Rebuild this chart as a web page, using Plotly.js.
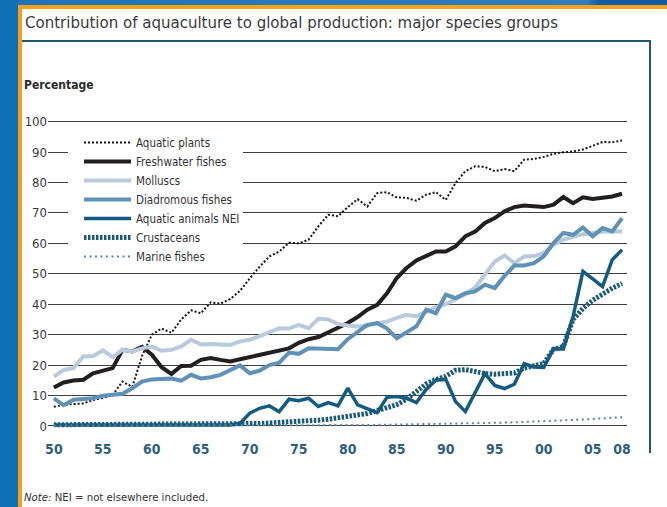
<!DOCTYPE html>
<html>
<head>
<meta charset="utf-8">
<script src="https://cdn.plot.ly/plotly-3.0.1.min.js"></script>
<style>
  html, body { margin: 0; padding: 0; background: #ffffff; }
  body { width: 667px; height: 507px; overflow: hidden; position: relative; }
  .deco { position: absolute; }
  #chart { position: absolute; left: 0; top: 0; width: 667px; height: 507px; }
</style>
</head>
<body>
<div class="deco" style="left:0;top:0;width:667px;height:5px;background:linear-gradient(90deg,#1d74b8 0%,#2f7dbd 88%,#0d5aa2 90%,#0d5aa2 100%);"></div>
<div class="deco" style="left:0;top:0;width:18px;height:507px;background:#0f70b6;"></div>
<div class="deco" style="left:18px;top:5px;width:649px;height:4px;background:#f7a11a;"></div>
<div class="deco" style="left:18px;top:5px;width:4px;height:502px;background:#f7a11a;"></div>
<div class="deco" style="left:22px;top:40px;width:629px;height:2px;background:#1f5670;"></div>
<div class="deco" style="left:649px;top:40px;width:2px;height:413px;background:#1f5670;"></div>
<div id="chart"></div>
<script>
const years = [1950,1951,1952,1953,1954,1955,1956,1957,1958,1959,
  1960,1961,1962,1963,1964,1965,1966,1967,1968,1969,
  1970,1971,1972,1973,1974,1975,1976,1977,1978,1979,
  1980,1981,1982,1983,1984,1985,1986,1987,1988,1989,
  1990,1991,1992,1993,1994,1995,1996,1997,1998,1999,
  2000,2001,2002,2003,2004,2005,2006,2007,2008];

const aquaticPlants = [6.3,7.0,7.2,7.4,8.5,9.2,10.2,14.6,12.8,23.0,
  30.0,32.0,30.6,35.0,38.0,37.0,40.6,40.2,41.7,44.4,
  48.5,52.3,55.7,57.3,60.2,60.0,61.2,65.6,69.4,68.9,
  71.9,74.5,72.1,76.5,76.8,75.1,74.9,74.0,76.0,76.8,
  74.3,79.8,83.7,85.3,85.1,83.7,84.4,83.7,87.5,87.7,
  88.4,89.4,89.9,90.2,90.8,92.1,93.3,93.2,93.8];

const freshwaterFishes = [12.6,14.3,14.9,15.2,17.3,18.1,19.0,25.0,24.5,26.0,
  23.4,19.3,17.1,19.7,19.8,21.7,22.3,21.7,21.2,21.9,
  22.6,23.2,23.8,24.5,25.5,27.3,28.5,29.2,30.8,32.5,
  33.8,35.8,38.2,39.8,43.6,48.6,51.9,54.4,56.0,57.3,
  57.3,59.0,62.3,63.9,66.7,68.3,70.5,71.9,72.4,72.1,
  71.9,72.7,75.2,73.2,75.1,74.6,74.9,75.4,76.3];

const molluscs = [16.2,18.4,19.0,22.8,23.0,24.8,22.6,25.0,24.5,25.5,
  26.1,24.7,25.0,26.1,28.3,26.8,26.9,26.9,26.6,27.8,
  28.3,29.5,30.8,32.1,32.0,33.2,32.1,35.2,35.0,33.5,
  33.0,32.7,33.0,33.8,34.3,35.5,36.5,36.0,37.5,39.0,
  40.0,41.5,43.3,45.5,49.5,54.0,56.0,53.5,55.7,55.8,
  56.8,59.5,61.2,62.0,63.0,63.4,63.9,64.0,63.9];

const diadromousFishes = [9.1,6.8,8.6,8.8,9.1,9.9,10.2,10.6,12.4,14.6,
  15.3,15.6,15.6,14.9,16.8,15.6,16.0,16.8,18.4,19.9,
  17.3,18.2,20.0,20.8,24.1,23.7,25.5,25.5,25.3,25.2,
  28.5,31.0,33.2,33.8,32.0,28.8,30.7,32.7,38.2,37.0,
  43.1,42.0,43.6,44.2,46.4,45.3,49.3,52.7,52.7,53.5,
  55.7,60.1,63.4,62.8,65.2,62.3,65.0,63.9,68.3];

const aquaticAnimalsNEI = [0.3,0.3,0.3,0.3,0.3,0.3,0.3,0.3,0.3,0.3,
  0.3,0.3,0.3,0.3,0.3,0.3,0.3,0.3,0.3,0.8,
  4.2,5.8,6.6,4.7,8.8,8.3,9.1,6.4,7.7,6.6,
  12.4,6.9,5.8,4.4,9.4,9.7,9.1,7.7,12.0,15.1,
  15.3,8.0,4.7,11.0,17.2,13.3,12.3,13.7,20.5,19.4,
  19.2,25.4,25.3,36.0,50.8,48.3,45.8,54.6,57.9];

const crustaceans = [0.4,0.4,0.4,0.4,0.4,0.4,0.4,0.4,0.4,0.4,
  0.4,0.4,0.4,0.4,0.4,0.5,0.5,0.5,0.5,0.5,
  0.7,0.8,1.0,1.1,1.3,1.4,1.6,1.9,2.2,2.6,
  3.0,3.5,4.1,5.0,6.0,7.0,8.8,11.5,13.8,15.3,
  16.3,18.3,18.5,17.9,17.2,17.0,17.1,17.4,19.0,19.6,
  20.5,25.2,26.1,35.0,38.6,41.3,43.5,45.3,46.8];

const marineFishes = [0.1,0.1,0.1,0.1,0.1,0.1,0.1,0.1,0.1,0.1,
  0.1,0.1,0.1,0.1,0.1,0.1,0.1,0.1,0.1,0.1,
  0.1,0.1,0.1,0.15,0.15,0.2,0.2,0.2,0.25,0.25,
  0.3,0.3,0.3,0.35,0.4,0.4,0.45,0.5,0.55,0.6,
  0.6,0.7,0.75,0.8,0.9,1.0,1.1,1.2,1.3,1.4,
  1.5,1.6,1.8,1.9,2.1,2.3,2.5,2.7,2.9];

const seriesNames = ['Aquatic plants','Freshwater fishes','Molluscs','Diadromous fishes',
  'Aquatic animals NEI','Crustaceans','Marine fishes'];

const xTickVals = [1950,1955,1960,1965,1970,1975,1980,1985,1990,1995,2000,2005,2008];
const xTickText = ['50','55','60','65','70','75','80','85','90','95','00','05','08'];
const yTickVals = [0,10,20,30,40,50,60,70,80,90,100];

const FONT = '"Liberation Sans Narrow", "DejaVu Sans Condensed", "Arial Narrow", sans-serif';

const styles = [
  {color:'#151515', width:2, dash:'2px,2px'},
  {color:'#231f20', width:4},
  {color:'#b8cadb', width:4},
  {color:'#5f92b6', width:4},
  {color:'#135b82', width:3.5},
  {color:'#1b5a78', width:5, dash:'2.5px,1.5px'},
  {color:'#5a86a8', width:2, dash:'2px,3.5px'}
];
const dataSets = [aquaticPlants, freshwaterFishes, molluscs, diadromousFishes,
  aquaticAnimalsNEI, crustaceans, marineFishes];

const traces = dataSets.map((vals, i) => ({
  type: 'scatter', mode: 'lines', x: years, y: vals, name: seriesNames[i],
  line: Object.assign({shape:'linear'}, styles[i]),
  hoverinfo: 'x+y+name'
}));

// plot area: left 48px, width 579px; top 117px, height 312px
const px2x = p => (p - 48) / 579;
const px2y = p => (429 - p) / 312;

const layout = {
  width: 667, height: 507,
  margin: {l: 48, r: 40, t: 117, b: 78, pad: 0},
  paper_bgcolor: 'rgba(0,0,0,0)',
  plot_bgcolor: 'rgba(0,0,0,0)',
  font: {family: FONT, color: '#333333'},
  title: {
    text: 'Contribution of aquaculture to global production: major species groups',
    font: {family: FONT, size: 16.7, color: '#3a3a3a'},
    xref: 'container', yref: 'container', x: 25/667, xanchor: 'left',
    y: 1 - 22/507, yanchor: 'middle'
  },
  showlegend: true,
  legend: {
    x: px2x(79), y: px2y(128), xanchor: 'left', yanchor: 'top',
    bgcolor: 'rgba(255,255,255,0)', borderwidth: 0,
    font: {family: FONT, size: 11.5, color: '#333333'},
    itemwidth: 47, traceorder: 'normal', tracegroupgap: 0
  },
  shapes: [
    {type: 'rect', layer: 'above', xref: 'paper', yref: 'y',
     x0: px2x(68), x1: px2x(243), y0: 56, y1: 94,
     fillcolor: '#ffffff', line: {width: 0}}
  ],
  xaxis: {
    range: [1949.4, 2008.5], tickmode: 'array', tickvals: xTickVals, ticktext: xTickText,
    showgrid: false, zeroline: false, showline: false, ticks: '',
    tickfont: {family: FONT, size: 14, color: '#2f5f80', weight: 'bold'},
    ticklabelstandoff: 10, fixedrange: true
  },
  yaxis: {
    range: [-1, 101.5], tickmode: 'array', tickvals: yTickVals,
    showgrid: true, gridcolor: '#3f3f3f', gridwidth: 1,
    zeroline: false, showline: false, ticks: '',
    tickfont: {family: FONT, size: 13, color: '#3a3a3a'},
    ticklabelstandoff: 0, fixedrange: true
  },
  annotations: [
    {text: '<b>Percentage</b>', xref: 'paper', yref: 'paper', x: px2x(22), y: px2y(85),
     xanchor: 'left', yanchor: 'middle', showarrow: false,
     font: {family: FONT, size: 12, color: '#2a2a2a'}},
    {text: '<i>Note:</i> NEI = not elsewhere included.', xref: 'paper', yref: 'paper',
     x: px2x(22), y: px2y(497), xanchor: 'left', yanchor: 'middle', showarrow: false,
     font: {family: FONT, size: 11.3, color: '#333333'}}
  ]
};

Plotly.newPlot('chart', traces, layout, {displayModeBar: false, staticPlot: true});
</script>
</body>
</html>
